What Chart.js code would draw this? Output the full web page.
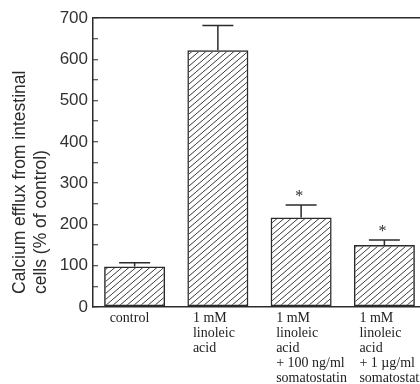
<!DOCTYPE html>
<html>
<head>
<meta charset="utf-8">
<title>Calcium efflux</title>
<script src="https://cdn.jsdelivr.net/npm/chart.js@4.4.1/dist/chart.umd.min.js"></script>
<style>
    html, body { margin: 0; padding: 0; background: #fff; overflow: hidden; }
    canvas { display: block; }
</style>
</head>
<body>
<canvas id="chart-efflux" width="426" height="384"></canvas>
<script>
// Data
const CATEGORIES = [
    'control',
    ['1 mM', 'linoleic', 'acid'],
    ['1 mM', 'linoleic', 'acid', '+ 100 ng/ml', 'somatostatin'],
    ['1 mM', 'linoleic', 'acid', '+ 1 µg/ml', 'somatostatin'],
];
const EFFLUX_MEAN = [98, 622, 217, 150];
const EFFLUX_UPPER = [107, 682, 247, 162];
const SIGNIFICANT = [false, false, true, true];
const Y_TICKS = [0, 100, 200, 300, 400, 500, 600, 700];
const Y_TITLE = ['Calcium efflux from intestinal', 'cells (% of control)'];

const INK = '#2b2b2b';

// Pola arsir diagonal untuk isi batang
function makeHatch() {
    const tile = document.createElement('canvas');
    tile.width = 7;
    tile.height = 6;
    const c = tile.getContext('2d');
    c.strokeStyle = '#3a3a3a';
    c.lineWidth = 1;
    c.beginPath();
    c.moveTo(-7, 12); c.lineTo(0, 6);
    c.moveTo(0, 6); c.lineTo(7, 0);
    c.moveTo(7, 0); c.lineTo(14, -6);
    c.stroke();
    return c.createPattern(tile, 'repeat');
}

// ----------------------------------------------------------------
// Plugin: error bar (ke atas saja) + tanda bintang
// ----------------------------------------------------------------
const errorBars = {
    id: 'errorBars',
    afterDatasetsDraw(chart) {
        const { ctx, scales: { y } } = chart;
        const meta = chart.getDatasetMeta(0);
        ctx.save();
        ctx.strokeStyle = INK;
        ctx.fillStyle = INK;
        ctx.lineWidth = 1.5;
        ctx.font = '16px "Liberation Serif"';
        ctx.textAlign = 'center';
        ctx.textBaseline = 'alphabetic';
        meta.data.forEach((bar, i) => {
            const top = y.getPixelForValue(EFFLUX_UPPER[i]);
            ctx.beginPath();
            ctx.moveTo(bar.x, bar.y);
            ctx.lineTo(bar.x, top);
            ctx.moveTo(bar.x - 15.5, top);
            ctx.lineTo(bar.x + 15.5, top);
            ctx.stroke();
            if (SIGNIFICANT[i]) ctx.fillText('*', bar.x - 2, top - 4);
        });
        ctx.restore();
    },
};

// ----------------------------------------------------------------
// Plugin: judul sumbu Y (dua baris, rata kiri, diputar)
// ----------------------------------------------------------------
const axisTitle = {
    id: 'axisTitle',
    afterDraw(chart) {
        const { ctx, chartArea } = chart;
        ctx.save();
        ctx.fillStyle = INK;
        ctx.font = '17.5px "Liberation Sans"';
        ctx.textAlign = 'left';
        ctx.textBaseline = 'alphabetic';
        Y_TITLE.forEach((line, i) => {
            ctx.save();
            ctx.translate(25 + i * 21, chartArea.bottom - 13);
            ctx.rotate(-Math.PI / 2);
            ctx.fillText(line, 0, 0);
            ctx.restore();
        });
        ctx.restore();
    },
};

new Chart(document.getElementById('chart-efflux'), {
    type: 'bar',
    data: {
        labels: CATEGORIES,
        datasets: [{
            data: EFFLUX_MEAN,
            backgroundColor: makeHatch(),
            borderColor: INK,
            borderWidth: 1.5,
            borderSkipped: false,
            barPercentage: 0.733,
            categoryPercentage: 1,
        }],
    },
    options: {
        responsive: false,
        animation: false,
        layout: { padding: { top: 18, left: 0, right: 0, bottom: 0 } },
        plugins: {
            legend: { display: false },
            tooltip: { enabled: false },
        },
        scales: {
            x: {
                grid: { display: false, drawTicks: false },
                border: { color: INK, width: 1.5 },
                ticks: {
                    align: 'start',
                    labelOffset: -25,
                    padding: 4,
                    autoSkip: false,
                    maxRotation: 0,
                    color: '#222',
                    font: { family: 'Liberation Serif', size: 14, lineHeight: 1.07 },
                },
                afterFit(scale) {
                    // label terakhir boleh terpotong di tepi kanan, seperti aslinya
                    scale.height = 77;
                    scale.paddingLeft = 0;
                    scale.paddingRight = 0;
                },
            },
            y: {
                min: Y_TICKS[0],
                max: Y_TICKS[Y_TICKS.length - 1],
                grid: {
                    color: (c) => (c.tick && c.tick.value === 700 ? INK : 'rgba(0,0,0,0)'),
                    lineWidth: 1.5,
                    tickColor: INK,
                    tickWidth: 1,
                    tickLength: -5,
                },
                border: { color: INK, width: 1.5 },
                ticks: {
                    stepSize: 50,
                    autoSkip: false,
                    padding: 10,
                    color: '#333',
                    font: { family: 'Liberation Sans', size: 17 },
                    callback: (v) => (Y_TICKS.includes(v) ? v : ''),
                },
                afterFit(scale) {
                    scale.width = 93;
                    scale.paddingTop = 0;
                    scale.paddingBottom = 0;
                },
            },
        },
    },
    plugins: [errorBars, axisTitle],
});
</script>
</body>
</html>
